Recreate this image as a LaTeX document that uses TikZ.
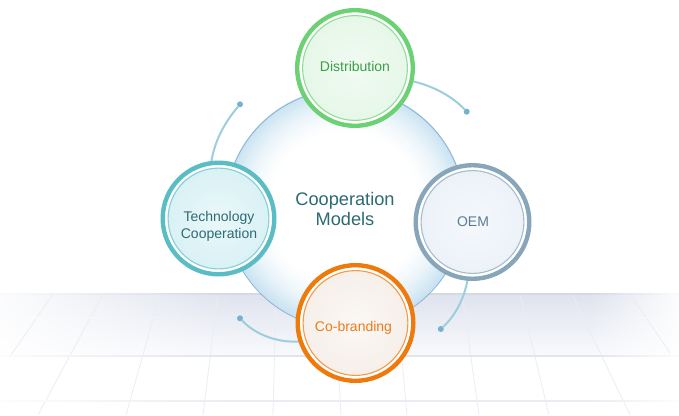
\documentclass[tikz,border=0pt]{standalone}
\usepackage{fontspec}
\setmainfont{Liberation Sans}
\pgfdeclarelayer{floor}
\pgfdeclarelayer{arcs}
\pgfsetlayers{floor,arcs,main}
\definecolor{distRing}{HTML}{6CD174}
\definecolor{distInner}{HTML}{93DD98}
\definecolor{distFillA}{HTML}{F1FBF2}
\definecolor{distFillB}{HTML}{E6F7E8}
\definecolor{distText}{HTML}{3C9E48}
\definecolor{techRing}{HTML}{5BBDC4}
\definecolor{techInner}{HTML}{86CFD4}
\definecolor{techFillA}{HTML}{EAF8FA}
\definecolor{techFillB}{HTML}{D9F1F5}
\definecolor{techText}{HTML}{2E6A72}
\definecolor{oemRing}{HTML}{88A6BA}
\definecolor{oemInner}{HTML}{A5BDCC}
\definecolor{oemFillA}{HTML}{F5F8FC}
\definecolor{oemFillB}{HTML}{ECF2F8}
\definecolor{oemText}{HTML}{5A7C93}
\definecolor{cobRing}{HTML}{EF7A0C}
\definecolor{cobInner}{HTML}{F29A4A}
\definecolor{cobFillA}{HTML}{FBF8F5}
\definecolor{cobFillB}{HTML}{F6EFEA}
\definecolor{cobText}{HTML}{EE7A1A}
\definecolor{coreEdge}{HTML}{8DB5D8}
\definecolor{coreText}{HTML}{2C6A74}
\definecolor{glassC}{HTML}{C9E3F1}
\definecolor{arcCol}{HTML}{9CCFDB}
\definecolor{dotCol}{HTML}{74B2D0}
\definecolor{floorTop}{HTML}{DFE3EE}
\definecolor{floorBot}{HTML}{F8F9FC}
\definecolor{gridCol}{HTML}{EBEDF3}
\definecolor{hlTop}{HTML}{D5D9E4}
\definecolor{hlA}{HTML}{EBEDF4}
\definecolor{hlB}{HTML}{E1E4EC}
\definecolor{hlC}{HTML}{E9ECF1}
\tikzset{
  ring/.style={circle, inner sep=0pt, line width=4.4pt, fill=white},
  arcline/.style={draw=arcCol, line width=2pt, line cap=round},
  dotnode/.style={circle, fill=dotCol, inner sep=0pt, minimum size=6pt},
  lbl/.style={font=\fontsize{14}{17}\selectfont, align=center, inner sep=0pt},
  gridline/.style={draw=gridCol, line width=0.8pt},
}
\begin{document}
\begin{tikzpicture}[x=1pt, y=-1pt]
\useasboundingbox (0,0) rectangle (679,415);

% ---------- floor ----------
\begin{pgfonlayer}{floor}
\fill[white] (0,0) rectangle (679,415);
\begin{scope}
\clip (0,0) rectangle (679,415);
\foreach \k in {0,...,30}{
  \pgfmathsetmacro{\ya}{294+2*\k}
  \pgfmathsetmacro{\yb}{\ya+2.6}
  \pgfmathtruncatemacro{\pc}{100-\k*100/30}
  \colorlet{fc}{floorTop!\pc!floorBot}
  \shade[left color=white, right color=fc] (-30,\ya) rectangle (230,\yb);
  \fill[fc] (229.5,\ya) rectangle (590.5,\yb);
  \shade[left color=fc, right color=white] (590,\ya) rectangle (690,\yb);
}
\begin{scope}
  \clip (10,294) rectangle (670,415);
  \foreach \t/\b in {53/-30, 103/38, 160/126, 218/203, 276/273, 334/341, 396/407, 462/479, 520/549, 572/630, 630/712}{
    \draw[gridline] (\t,294) -- (\b,415);
  }
\end{scope}
\foreach \yy/\cc/\hh in {294/hlTop/1.3, 318/hlA/1.0, 356/hlB/1.2, 401/hlC/1.1}{
  \shade[left color=white, right color=\cc] (-30,{\yy-\hh/2}) rectangle (230,{\yy+\hh/2});
  \fill[\cc] (229.5,{\yy-\hh/2}) rectangle (590.5,{\yy+\hh/2});
  \shade[left color=\cc, right color=white] (590,{\yy-\hh/2}) rectangle (690,{\yy+\hh/2});
}
\end{scope}
\end{pgfonlayer}

% ---------- small circles ----------
\node[ring, draw=distRing, minimum size=115.6pt] (dist) at (355,68) {};
\shade[inner color=distFillA, outer color=distFillB] (dist.center) circle[radius=52.4pt];
\draw[distInner, line width=1.1pt] (dist.center) circle[radius=52.4pt];

\node[ring, draw=techRing, minimum size=111.6pt] (tech) at (218.5,218.5) {};
\shade[inner color=techFillA, outer color=techFillB] (tech.center) circle[radius=50.4pt];
\draw[techInner, line width=1.1pt] (tech.center) circle[radius=50.4pt];

\node[ring, draw=oemRing, minimum size=113.6pt] (oem) at (472.5,222) {};
\shade[inner color=oemFillA, outer color=oemFillB] (oem.center) circle[radius=51.4pt];
\draw[oemInner, line width=1.1pt] (oem.center) circle[radius=51.4pt];

\node[ring, draw=cobRing, minimum size=115.6pt] (cob) at (355.5,323) {};
\shade[inner color=cobFillA, outer color=cobFillB] (cob.center) circle[radius=52.4pt];
\draw[cobInner, line width=1.1pt] (cob.center) circle[radius=52.4pt];

% ---------- labels ----------
\node[lbl, text=distText, anchor=base] (distL) at (355,71.7) {Distribution};
\node[lbl, text=techText] (techL) at (219,225.9) {Technology\\Cooperation};
\node[lbl, text=oemText, anchor=base] (oemL) at (473,226.7) {OEM};
\node[lbl, text=cobText, anchor=base] (cobL) at (353.5,331.7) {Co-branding};

% ---------- core + arcs ----------
\begin{pgfonlayer}{arcs}
\coordinate (corec) at (345,208);
\foreach \i in {0,...,30}{
  \pgfmathsetmacro{\rr}{119.5-1.6*\i}
  \pgfmathtruncatemacro{\pc}{100*(1-\i/30)^1.8}
  \fill[glassC!\pc!white] (corec) circle[radius=\rr pt];
}
\node[circle, inner sep=0pt, minimum size=239pt, draw=coreEdge, line width=0.9pt,
      align=center, text=coreText,
      font=\fontsize{18.2}{19.8}\selectfont] (core) at (345,209) {Cooperation\\Models};

\node[dotnode] (dot1) at (466.7,111.7) {};
\node[dotnode] (dot2) at (240,104.3) {};
\node[dotnode] (dot3) at (440.8,329) {};
\node[dotnode] (dot4) at (240,318.3) {};

\draw[arcline] (dist.-13) .. controls (433,86) and (452.4,96.4) .. (dot1);
\draw[arcline] (tech.97) .. controls (215.5,137.9) and (226,121) .. (dot2);
\draw[arcline] (oem.-95) .. controls (463.9,299.4) and (454.7,316.3) .. (dot3);
\draw[arcline] (cob.198) .. controls (276.4,342.7) and (255,334.1) .. (dot4);
\end{pgfonlayer}
\end{tikzpicture}
\end{document}
